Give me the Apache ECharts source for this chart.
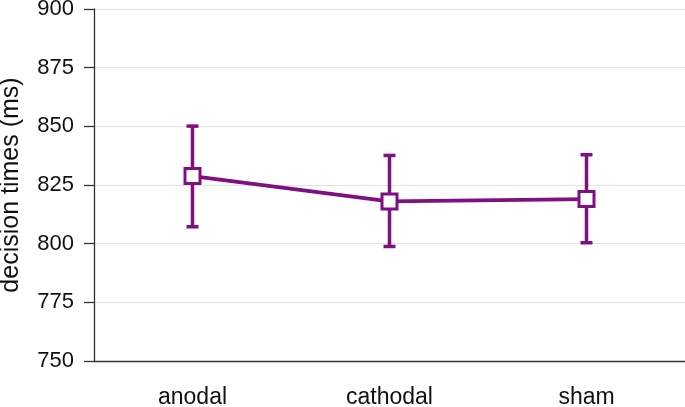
<!DOCTYPE html>
<html>
<head>
<meta charset="utf-8">
<script src="https://cdn.jsdelivr.net/npm/echarts@6/dist/echarts.min.js"></script>
<style>html,body{margin:0;padding:0;background:#fff}#c{width:685px;height:407px}</style>
</head>
<body>
<div id="c"></div>
<script>
const categories = ['anodal', 'cathodal', 'sham'];
const means = [828.8, 818.0, 819.0];
const upper = [850.1, 837.6, 837.9];
const lower = [807.2, 798.8, 800.4];
const yTicks = [750, 775, 800, 825, 850, 875, 900];

const purple = '#800f80';
const font = '"Liberation Sans", Arial, sans-serif';

const chart = echarts.init(document.getElementById('c'));
const errData = categories.map((c, i) => [i, lower[i], upper[i]]);

chart.setOption({
  animation: false,
  grid: { left: 94, right: 0, top: 9, bottom: 46, containLabel: false, outerBoundsMode: 'none' },
  xAxis: {
    type: 'category',
    data: categories,
    boundaryGap: true,
    axisLine: { lineStyle: { color: '#333', width: 1.3 } },
    axisTick: { alignWithLabel: true, length: 12, lineStyle: { color: '#333', width: 1.3 } },
    axisLabel: { color: '#111', fontSize: 23, fontFamily: font, margin: 25 },
    splitLine: { show: false }
  },
  yAxis: {
    type: 'value',
    min: yTicks[0],
    max: yTicks[yTicks.length - 1],
    interval: 25,
    name: 'decision times (ms)',
    nameLocation: 'middle',
    nameRotate: 90,
    nameGap: 70,
    nameTextStyle: { color: '#111', fontSize: 25, fontFamily: font },
    axisLine: { show: true, lineStyle: { color: '#333', width: 1.3 } },
    axisTick: { show: true, length: 10, lineStyle: { color: '#333', width: 1.3 } },
    axisLabel: { color: '#111', fontSize: 22, fontFamily: font, margin: 20 },
    splitLine: { show: true, lineStyle: { color: '#e2e2e2', width: 1 } }
  },
  series: [
    {
      type: 'custom',
      z: 1,
      data: errData,
      renderItem: function (params, api) {
        const x = api.value(0);
        const lo = api.coord([x, api.value(1)]);
        const hi = api.coord([x, api.value(2)]);
        const hw = 6;
        const st = { stroke: purple, lineWidth: 3.5 };
        return {
          type: 'group',
          children: [
            { type: 'line', shape: { x1: hi[0], y1: hi[1], x2: lo[0], y2: lo[1] }, style: st },
            { type: 'line', shape: { x1: hi[0] - hw, y1: hi[1], x2: hi[0] + hw, y2: hi[1] }, style: st },
            { type: 'line', shape: { x1: lo[0] - hw, y1: lo[1], x2: lo[0] + hw, y2: lo[1] }, style: st }
          ]
        };
      }
    },
    {
      type: 'line',
      z: 3,
      data: means,
      symbol: 'rect',
      symbolSize: 15,
      lineStyle: { color: purple, width: 3.8 },
      itemStyle: { color: '#fff', borderColor: purple, borderWidth: 3 }
    }
  ]
});
</script>
</body>
</html>
